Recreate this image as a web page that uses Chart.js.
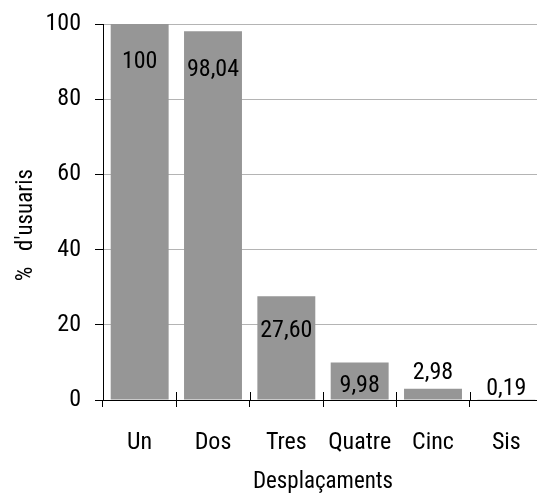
<!DOCTYPE html>
<html>
<head>
<meta charset="utf-8">
<script src="https://cdn.jsdelivr.net/npm/chart.js@4"></script>
<style>
  html, body { margin: 0; padding: 0; background: #fff; overflow: hidden; }
  #wrap { width: 545px; height: 493px; }
</style>
</head>
<body>
<div id="wrap"><canvas id="grafico" width="545" height="493"></canvas></div>
<script>
const categorias = ['Un', 'Dos', 'Tres', 'Quatre', 'Cinc', 'Sis'];
const usuaris = [100, 98.04, 27.60, 9.98, 2.98, 0.19];
const etiquetes = ['100', '98,04', '27,60', '9,98', '2,98', '0,19'];
const ticksY = [0, 20, 40, 60, 80, 100];

const FONT = '"Roboto Condensed", "Liberation Sans", Arial, sans-serif';

// etiquetes de valor dins/sobre les barres
const etiquetesPlugin = {
  id: 'etiquetes',
  afterDatasetsDraw(chart, args, opts) {
    const ctx = chart.ctx;
    const meta = chart.getDatasetMeta(0);
    ctx.save();
    ctx.font = '24px ' + FONT;
    ctx.fillStyle = '#000';
    ctx.textAlign = 'center';
    ctx.textBaseline = 'middle';
    meta.data.forEach((bar, i) => {
      ctx.fillText(etiquetes[i], bar.x, bar.y + opts.desplaca[i]);
    });
    ctx.restore();
  }
};

// petites marques de l'eix X per sobre de l'eix
const marquesPlugin = {
  id: 'marques',
  afterDraw(chart) {
    const x = chart.scales.x;
    const ctx = chart.ctx;
    const base = chart.chartArea.bottom;
    ctx.save();
    ctx.strokeStyle = '#000';
    ctx.lineWidth = 1;
    for (let i = 0; i <= categorias.length; i++) {
      const px = Math.round(x.left + i * (x.width / categorias.length)) + 0.5;
      ctx.beginPath();
      ctx.moveTo(px, base - 8);
      ctx.lineTo(px, base);
      ctx.stroke();
    }
    ctx.restore();
  }
};

new Chart(document.getElementById('grafico').getContext('2d'), {
  type: 'bar',
  data: {
    labels: categorias,
    datasets: [{
      data: usuaris,
      backgroundColor: '#969696',
      borderWidth: 0,
      barPercentage: 0.79,
      categoryPercentage: 1
    }]
  },
  options: {
    responsive: false,
    animation: false,
    layout: { padding: { top: 24, right: 2, left: 0, bottom: 0 } },
    plugins: {
      legend: { display: false },
      tooltip: { enabled: false },
      etiquetes: { desplaca: [38, 39, 35, 24, -16, -10] }
    },
    scales: {
      x: {
        offset: true,
        grid: {
          offset: true,
          drawOnChartArea: false,
          drawTicks: true,
          tickLength: 7,
          tickColor: '#000'
        },
        border: { color: '#000', width: 1 },
        ticks: {
          color: '#000',
          font: { family: FONT, size: 24 },
          padding: 22,
          maxRotation: 0,
          autoSkip: false
        },
        title: {
          display: true,
          text: 'Desplaçaments',
          color: '#000',
          font: { family: FONT, size: 23, lineHeight: 1 },
          padding: { top: 18, bottom: -1 }
        },
        afterFit(s) { s.height = 93; s.paddingLeft = 0; s.paddingRight = 0; }
      },
      y: {
        min: 0,
        max: 100,
        afterBuildTicks(s) { s.ticks = ticksY.map(v => ({ value: v })); },
        grid: {
          color: '#b4b4b4',
          tickColor: '#000',
          tickLength: 8,
          drawTicks: true
        },
        border: { color: '#000', width: 1 },
        ticks: { color: '#000', font: { family: FONT, size: 24 }, padding: 14 },
        title: {
          display: true,
          text: '%   d\'usuaris     ',
          color: '#000',
          font: { family: FONT, size: 23 },
          padding: { top: 12, bottom: 0 }
        },
        afterFit(s) { s.width = 103; s.paddingTop = 0; s.paddingBottom = 0; }
      }
    }
  },
  plugins: [etiquetesPlugin, marquesPlugin]
});
</script>
</body>
</html>
